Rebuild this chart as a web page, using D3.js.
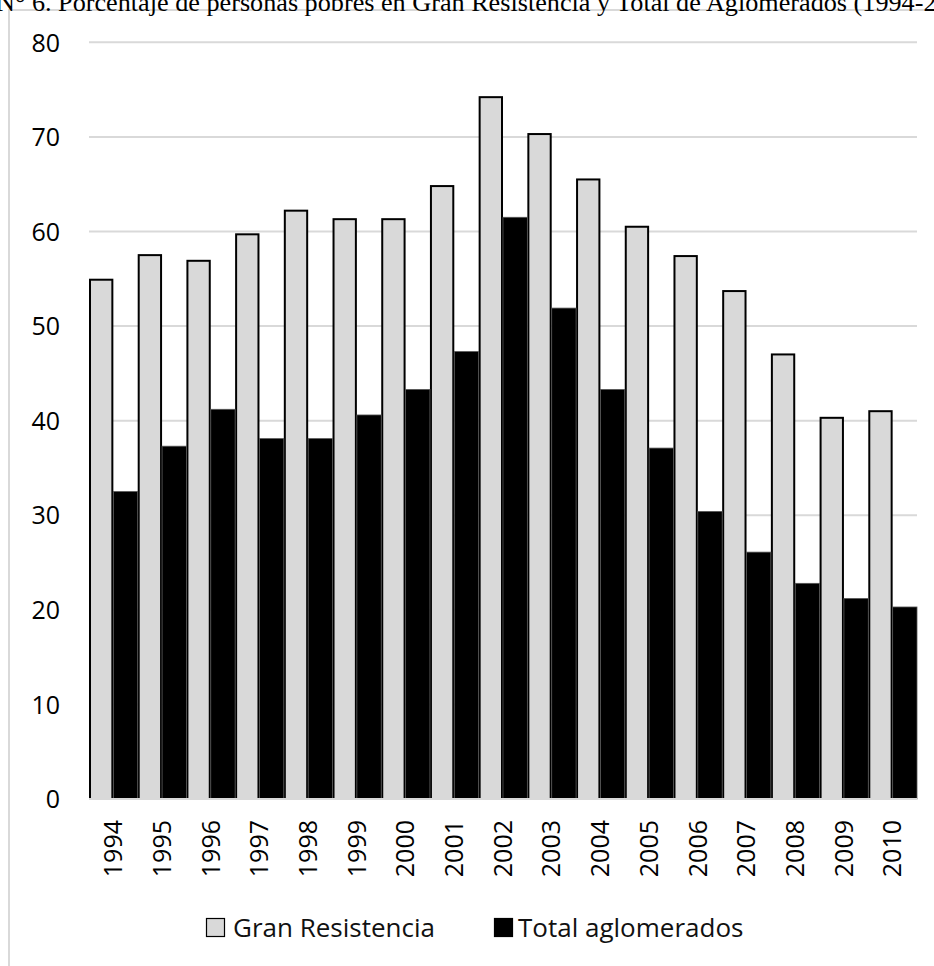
<!DOCTYPE html>
<html>
<head>
<meta charset="utf-8">
<script src="https://cdn.jsdelivr.net/npm/d3@7"></script>
<style>
  html, body { margin: 0; padding: 0; background: #fff; }
  svg { display: block; }
</style>
</head>
<body>
<svg id="chart" width="934" height="966"></svg>
<script>
const years = ["1994","1995","1996","1997","1998","1999","2000","2001","2002","2003","2004","2005","2006","2007","2008","2009","2010"];
const granResistencia = [54.9, 57.5, 56.9, 59.7, 62.2, 61.3, 61.3, 64.8, 74.2, 70.3, 65.5, 60.5, 57.4, 53.7, 47.0, 40.3, 41.0];
const totalAglomerados = [32.5, 37.3, 41.2, 38.1, 38.1, 40.6, 43.3, 47.3, 61.5, 51.9, 43.3, 37.1, 30.4, 26.1, 22.8, 21.2, 20.3];
const yTicks = [0, 10, 20, 30, 40, 50, 60, 70, 80];
const seriesNames = ["Gran Resistencia", "Total aglomerados"];
const titleText = "N° 6. Porcentaje de personas pobres en Gran Resistencia y Total de Aglomerados (1994-2010)";

const svg = d3.select("#chart");
const sans = "'Open Sans', 'Noto Sans', sans-serif";

// frame (only left & top visible)
svg.append("path")
  .attr("d", "M9,966 L9,10 L934,10")
  .attr("fill", "none").attr("stroke", "#d9d9d9").attr("stroke-width", 2);

// title (cropped by the picture edges, as in the reference)
svg.append("text")
  .attr("x", -4).attr("y", 11)
  .attr("font-family", "'Liberation Serif', 'Times New Roman', serif")
  .attr("font-size", 26.2)
  .attr("fill", "#000")
  .text(titleText);

const x0 = d3.scaleBand().domain(years).range([89, 917]).paddingInner(0).paddingOuter(0);
const x1 = d3.scaleBand().domain(seriesNames).range([0, x0.bandwidth()]).padding(0);
const y = d3.scaleLinear().domain([0, 80]).range([799, 42.3]);

// gridlines
svg.append("g").selectAll("line").data(yTicks.filter(d => d > 0)).join("line")
  .attr("x1", 89).attr("x2", 917)
  .attr("y1", d => y(d)).attr("y2", d => y(d))
  .attr("stroke", "#d9d9d9").attr("stroke-width", 2);

// y axis labels
const yAxis = d3.axisLeft(y).tickValues(yTicks).tickSize(0).tickPadding(0);
const gy = svg.append("g").attr("transform", "translate(60,0)").call(yAxis);
gy.select(".domain").remove();
gy.selectAll("text").attr("font-family", sans).attr("font-size", 25).attr("fill", "#000").attr("dy", "0.35em");

// bars
const g = svg.append("g");
g.selectAll("rect.gran").data(years).join("rect")
  .attr("class", "gran")
  .attr("x", d => x0(d) + x1(seriesNames[0]) + 1)
  .attr("width", x1.bandwidth() - 2)
  .attr("y", (d, i) => y(granResistencia[i]))
  .attr("height", (d, i) => y(0) - y(granResistencia[i]))
  .attr("fill", "#d9d9d9").attr("stroke", "#000").attr("stroke-width", 2);
g.selectAll("rect.total").data(years).join("rect")
  .attr("class", "total")
  .attr("x", d => x0(d) + x1(seriesNames[1]))
  .attr("width", x1.bandwidth())
  .attr("y", (d, i) => y(totalAglomerados[i]))
  .attr("height", (d, i) => y(0) - y(totalAglomerados[i]))
  .attr("fill", "#000").attr("stroke", "#555").attr("stroke-width", 0.8);

// x axis line
svg.append("line").attr("x1", 89).attr("x2", 917).attr("y1", 799).attr("y2", 799)
  .attr("stroke", "#d9d9d9").attr("stroke-width", 2);

// x axis labels
const xAxis = d3.axisBottom(x0).tickSize(0).tickPadding(0);
const gx = svg.append("g").attr("transform", "translate(0,799)").call(xAxis);
gx.select(".domain").remove();
gx.selectAll("text")
  .attr("font-family", sans).attr("font-size", 25).attr("fill", "#000")
  .attr("transform", "rotate(-90)")
  .attr("text-anchor", "end")
  .attr("x", -21).attr("y", 0).attr("dy", "0.35em");

// legend
const legend = [
  {name: seriesNames[0], fill: "#d9d9d9", stroke: "#000", sx: 206, tx: 233},
  {name: seriesNames[1], fill: "#000", stroke: "#000", sx: 494, tx: 518}
];
const lg = svg.append("g");
lg.selectAll("rect").data(legend).join("rect")
  .attr("x", d => d.sx + 0.5).attr("y", 918.5).attr("width", 18).attr("height", 18)
  .attr("fill", d => d.fill).attr("stroke", d => d.stroke).attr("stroke-width", 1.2);
lg.selectAll("text").data(legend).join("text")
  .attr("x", d => d.tx).attr("y", 937)
  .attr("font-family", sans).attr("font-size", 26).attr("fill", "#111")
  .text(d => d.name);
</script>
</body>
</html>
